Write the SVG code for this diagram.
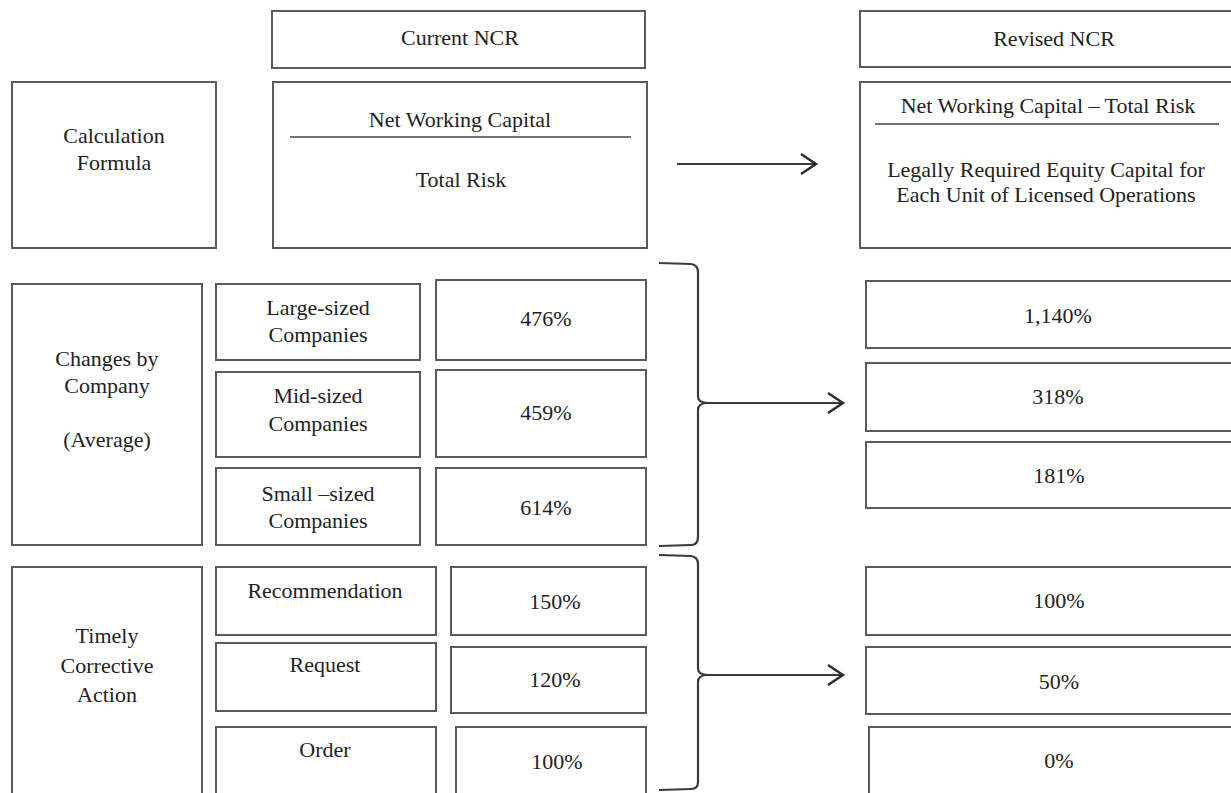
<svg xmlns="http://www.w3.org/2000/svg" width="1231" height="793" viewBox="0 0 1231 793">
  <style>
    .box { fill: #ffffff; stroke: #5a5a5a; stroke-width: 2; }
    .lbl { font-family: "Liberation Serif", "Times New Roman", serif; font-size: 22px; fill: #222222; text-anchor: middle; }
    .rule { stroke: #444444; stroke-width: 1.6; }
    .conn { fill: none; stroke: #3a3a3a; stroke-width: 2.2; }
  </style>
  <defs>
    <marker id="chev" markerUnits="userSpaceOnUse" markerWidth="20" markerHeight="24" refX="16" refY="11" orient="auto">
      <path d="M1,1 L16,11 L1,21" fill="none" stroke="#2a2a2a" stroke-width="2.4"/>
    </marker>
  </defs>
  <rect width="1231" height="793" fill="#ffffff"/>

  <!-- column headers -->
  <g id="hdr-current">
    <rect class="box" x="272" y="11" width="373" height="57"/>
    <text class="lbl" x="460" y="45">Current NCR</text>
  </g>
  <g id="hdr-revised">
    <rect class="box" x="860" y="11" width="400" height="56"/>
    <text class="lbl" x="1054" y="46">Revised NCR</text>
  </g>

  <!-- calculation formula row -->
  <g id="row-formula">
    <rect class="box" x="12" y="82" width="204" height="166"/>
    <text class="lbl" x="114" y="143">Calculation</text>
    <text class="lbl" x="114" y="170">Formula</text>
  </g>
  <g id="formula-current">
    <rect class="box" x="273" y="82" width="374" height="166"/>
    <text class="lbl" x="460" y="127">Net Working Capital</text>
    <line class="rule" x1="290" y1="137" x2="631" y2="137"/>
    <text class="lbl" x="461" y="187">Total Risk</text>
  </g>
  <g id="formula-revised">
    <rect class="box" x="860" y="82" width="400" height="166"/>
    <text class="lbl" x="1048" y="113">Net Working Capital – Total Risk</text>
    <line class="rule" x1="875" y1="124" x2="1219" y2="124"/>
    <text class="lbl" x="1046" y="177">Legally Required Equity Capital for</text>
    <text class="lbl" x="1046" y="202">Each Unit of Licensed Operations</text>
  </g>

  <!-- changes by company row -->
  <g id="row-company">
    <rect class="box" x="12" y="284" width="190" height="261"/>
    <text class="lbl" x="107" y="366">Changes by</text>
    <text class="lbl" x="107" y="393">Company</text>
    <text class="lbl" x="107" y="447">(Average)</text>
  </g>
  <g id="large">
    <rect class="box" x="216" y="284" width="204" height="76"/>
    <text class="lbl" x="318" y="315">Large-sized</text>
    <text class="lbl" x="318" y="342">Companies</text>
  </g>
  <g id="large-cur">
    <rect class="box" x="436" y="280" width="210" height="80"/>
    <text class="lbl" x="546" y="326">476%</text>
  </g>
  <g id="mid">
    <rect class="box" x="216" y="372" width="204" height="85"/>
    <text class="lbl" x="318" y="403">Mid-sized</text>
    <text class="lbl" x="318" y="431">Companies</text>
  </g>
  <g id="mid-cur">
    <rect class="box" x="436" y="370" width="210" height="87"/>
    <text class="lbl" x="546" y="420">459%</text>
  </g>
  <g id="small">
    <rect class="box" x="216" y="468" width="204" height="77"/>
    <text class="lbl" x="318" y="501">Small –sized</text>
    <text class="lbl" x="318" y="528">Companies</text>
  </g>
  <g id="small-cur">
    <rect class="box" x="436" y="468" width="210" height="77"/>
    <text class="lbl" x="546" y="515">614%</text>
  </g>
  <g id="large-rev">
    <rect class="box" x="866" y="281" width="400" height="67"/>
    <text class="lbl" x="1058" y="323">1,140%</text>
  </g>
  <g id="mid-rev">
    <rect class="box" x="866" y="363" width="400" height="68"/>
    <text class="lbl" x="1058" y="404">318%</text>
  </g>
  <g id="small-rev">
    <rect class="box" x="866" y="442" width="400" height="66"/>
    <text class="lbl" x="1059" y="483">181%</text>
  </g>

  <!-- timely corrective action row -->
  <g id="row-action">
    <rect class="box" x="12" y="567" width="190" height="240"/>
    <text class="lbl" x="107" y="643">Timely</text>
    <text class="lbl" x="107" y="673">Corrective</text>
    <text class="lbl" x="107" y="702">Action</text>
  </g>
  <g id="recommendation">
    <rect class="box" x="216" y="567" width="220" height="68"/>
    <text class="lbl" x="325" y="598">Recommendation</text>
  </g>
  <g id="recommendation-cur">
    <rect class="box" x="451" y="567" width="195" height="68"/>
    <text class="lbl" x="555" y="609">150%</text>
  </g>
  <g id="request">
    <rect class="box" x="216" y="643" width="220" height="68"/>
    <text class="lbl" x="325" y="672">Request</text>
  </g>
  <g id="request-cur">
    <rect class="box" x="451" y="647" width="195" height="66"/>
    <text class="lbl" x="555" y="687">120%</text>
  </g>
  <g id="order">
    <rect class="box" x="216" y="727" width="220" height="80"/>
    <text class="lbl" x="325" y="757">Order</text>
  </g>
  <g id="order-cur">
    <rect class="box" x="456" y="727" width="190" height="80"/>
    <text class="lbl" x="557" y="769">100%</text>
  </g>
  <g id="recommendation-rev">
    <rect class="box" x="866" y="567" width="400" height="68"/>
    <text class="lbl" x="1059" y="608">100%</text>
  </g>
  <g id="request-rev">
    <rect class="box" x="866" y="647" width="400" height="67"/>
    <text class="lbl" x="1059" y="689">50%</text>
  </g>
  <g id="order-rev">
    <rect class="box" x="869" y="727" width="400" height="80"/>
    <text class="lbl" x="1059" y="768">0%</text>
  </g>

  <!-- braces and arrows -->
  <g id="connectors">
    <line class="conn" x1="677" y1="164" x2="816" y2="164" marker-end="url(#chev)"/>

    <path class="conn" d="M659,263 L691,264 Q698,265 698,272 L698,396 Q698,403 708,403 M708,403 Q698,403 698,410 L698,537 Q698,545 691,545 L659,546"/>
    <line class="conn" x1="704" y1="403" x2="843" y2="403" marker-end="url(#chev)"/>

    <path class="conn" d="M659,555 L691,556 Q698,557 698,564 L698,668 Q698,675 708,675 M708,675 Q698,675 698,682 L698,782 Q698,789 691,789 L659,790"/>
    <line class="conn" x1="704" y1="675" x2="843" y2="675" marker-end="url(#chev)"/>
  </g>
</svg>
